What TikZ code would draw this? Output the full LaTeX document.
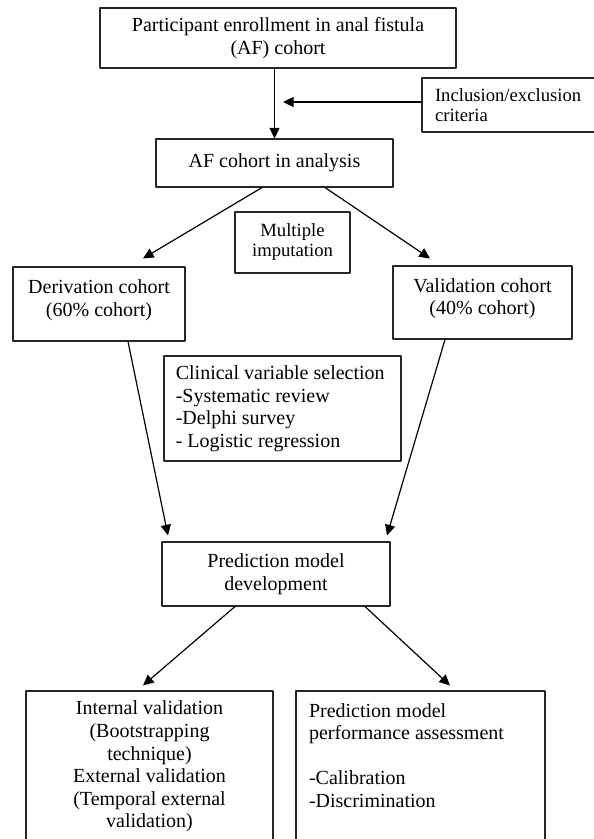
\documentclass[tikz,border=0pt]{standalone}
\usepackage{fontspec}
\setmainfont{Liberation Serif}
\usetikzlibrary{calc,arrows.meta}
\begin{document}
\begin{tikzpicture}[x=0.75pt, y=-0.75pt, line join=round, font=\fontsize{15}{16.9}\selectfont, >={Triangle[length=8pt,width=7.5pt]},
	box/.style={draw=black!85, line width=0.8pt, inner xsep=0pt, inner ysep=0pt, align=center},
	small/.style={font=\fontsize{14}{15}\selectfont},
	link/.style={->, line width=0.9pt}]
	\useasboundingbox (0,0) rectangle (593,839);
	% boxes
	\node[box, minimum width=267pt, minimum height=45pt] (enrol) at (278,38) {Participant enrollment in anal fistula\\(AF) cohort};
	\node[box, small, minimum width=132pt, minimum height=40.5pt, text width=112.5pt, align=flush left] (incl) at (510,105) {Inclusion/exclusion\\criteria};
	\node[box, minimum width=177.75pt, minimum height=36pt] (af) at (274.5,163) {AF cohort in analysis};
	\node[box, small, minimum width=86.25pt, minimum height=45.75pt] (mi) at (292.5,242.5) {Multiple\\imputation};
	\node[box, minimum width=129pt, minimum height=55.5pt] (der) at (99,304) {Derivation cohort\\(60\% cohort)\\[-8pt]\mbox{}};
	\node[box, minimum width=134.25pt, minimum height=54.75pt] (val) at (482.5,302.5) {Validation cohort\\(40\% cohort)\\[-8pt]\mbox{}};
	\node[box, minimum width=177.75pt, minimum height=78.75pt, text width=160pt, align=flush left] (clin) at (282.5,408.5) {Clinical variable selection\\-Systematic review\\-Delphi survey\\- Logistic regression};
	\node[box, minimum width=171pt, minimum height=48pt] (pred) at (276,574) {Prediction model\\development};
	\node[box, minimum width=185.25pt, minimum height=113.25pt] (intval) at (149.5,766.5) {Internal validation\\(Bootstrapping\\technique)\\External validation\\(Temporal external\\validation)};
	\node[box, minimum width=186.75pt, minimum height=113.25pt, text width=167.25pt, align=flush left] (perf) at (420.5,766.5) {Prediction model\\performance assessment\\\mbox{}\\-Calibration\\-Discrimination\\\mbox{}};
	% connectors
	\coordinate (join) at (283,102);
	\draw[link] (af.north |- enrol.south) -- (af.north);
	\draw[link] (incl.west |- join) -- (join);
	\draw[link] ($(af.south)+(-12.5,0)$) -- ($(der.north)+(44,-8)$);
	\draw[link] ($(af.south)+(50.5,0)$) -- ($(val.north)+(-52.5,-7)$);
	\draw[link] ($(der.south)+(29,0)$) -- ($(pred.north)+(-108,-6)$);
	\draw[link] ($(val.south)+(-37.5,0)$) -- ($(pred.north)+(111,-6)$);
	\draw[link] ($(pred.south)+(-41,0)$) -- ($(intval.north)+(-6.5,-5)$);
	\draw[link] ($(pred.south)+(89,0)$) -- ($(perf.north)+(29.5,-5)$);
\end{tikzpicture}
\end{document}
